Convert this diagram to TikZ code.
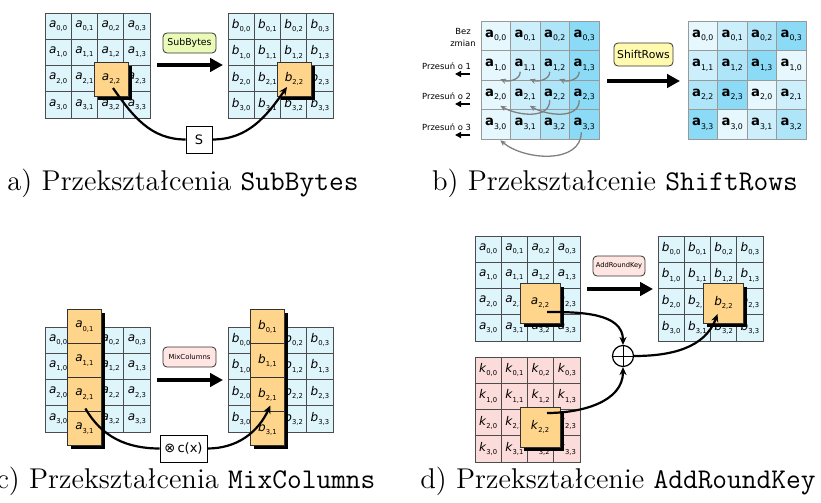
\documentclass[tikz,border=0pt]{standalone}
\usepackage{fontspec}
\usepackage{tikz}
\usetikzlibrary{arrows.meta,shadows}

\newfontfamily\vera{DejaVu Sans}

\definecolor{cellblue}{HTML}{DFF5FC}
\definecolor{cellpink}{HTML}{FCDCDA}
\definecolor{hlorange}{HTML}{FED58A}
\definecolor{sbgreen}{HTML}{EAFBB8}
\definecolor{shyellow}{HTML}{FFFAAE}
\definecolor{oppink}{HTML}{FFE6E2}
\definecolor{col0}{HTML}{E6F7FD}
\definecolor{col1}{HTML}{CDEFFB}
\definecolor{col2}{HTML}{AEE5F8}
\definecolor{col3}{HTML}{8BDBF7}

\newcommand{\elem}[2]{\textit{#1}\raisebox{-0.5ex}{\fontsize{3.4}{4}\selectfont #2}}
\newcommand{\elemb}[2]{\textbf{#1}\raisebox{-0.5ex}{\fontsize{3.9}{5}\selectfont #2}}

\begin{document}
\begin{tikzpicture}[x=0.5pt,y=-0.5pt]
	\useasboundingbox (0,0) rectangle (821,503);
	\begin{scope}
		[
			cell/.style={draw=black!70, inner sep=0,
				minimum width=13.1pt, minimum height=13.1pt,
				font=\vera\fontsize{6}{7}\selectfont},
			shcell/.style={draw=black!40, inner sep=0, minimum size=14.75pt,
				font=\vera\fontsize{6.6}{8}\selectfont},
			hl/.style={draw=black!80, fill=hlorange, inner sep=0, minimum size=#1,
				font=\vera\fontsize{6}{7}\selectfont,
				general shadow={fill=black, shadow xshift=1.8pt, shadow yshift=-1.8pt}},
			opbox/.style={draw=black!80, rounded corners=2pt, inner sep=0,
				minimum width=26.5pt, minimum height=10pt},
			fnbox/.style={draw, fill=white, inner sep=0, minimum height=13.5pt,
				font=\vera\fontsize{6.5}{7}\selectfont},
			rowlbl/.style={anchor=east, align=center, font=\vera\fontsize{4.2}{6}\selectfont},
			caption/.style={anchor=base, font=\fontsize{14.3}{17}\selectfont},
		]
		% grids a), d)
		\foreach \g/\x/\y/\l/\f in {sbA/45/13/a/cellblue, sbB/228/13/b/cellblue,
				akA/475/236/a/cellblue, akK/475/357/k/cellpink, akB/658/236/b/cellblue}
			\foreach \r in {0,...,3}
				\foreach \c in {0,...,3}
					\node(\g\r\c)[cell, fill=\f] at ({\x+26.25*(\c+0.5)},{\y+26.25*(\r+0.5)}) {\elem{\l}{\r,\c}};
		% grids c)
		\foreach \g/\x/\l in {mcA/45/a, mcB/228/b}
			\foreach \r in {0,...,3}
				\foreach \c in {0,2,3}
					\node(\g\r\c)[cell, fill=cellblue] at ({\x+26.25*(\c+0.5)},{327+26.25*(\r+0.5)}) {\elem{\l}{\r,\c}};
		% grids b)
		\foreach \r in {0,...,3}
			\foreach \c in {0,...,3}
				\node(shL\r\c)[shcell, fill=col\c] at ({481+29.5*(\c+0.5)},{21+29.5*(\r+0.5)}) {\elemb{a}{\r,\c}};
		\foreach \r in {0,...,3}
			\foreach \c in {0,...,3}{
				\pgfmathtruncatemacro{\k}{mod(\c+\r,4)}
				\node(shR\r\c)[shcell, fill=col\k] at ({688+29.5*(\c+0.5)},{21+29.5*(\r+0.5)}) {\elemb{a}{\r,\k}};
			}

		% highlighted bytes
		\node(sbHa)[hl=17pt] at (111,79) {\elem{a}{2,2}};
		\node(sbHb)[hl=17pt] at (294,79) {\elem{b}{2,2}};
		\node(akHa)[hl=20pt] at (540,303) {\elem{a}{2,2}};
		\node(akHk)[hl=20pt] at (540,427) {\elem{k}{2,2}};
		\node(akHb)[hl=20pt] at (723.5,303) {\elem{b}{2,2}};
		\foreach \r in {0,...,3}{
			\node(mcHa\r)[hl=17pt] at (84.4,{377.5+34*(\r-1.5)}) {\elem{a}{\r,1}};
			\node(mcHb\r)[hl=17pt] at (267.4,{377.5+34*(\r-1.5)}) {\elem{b}{\r,1}};
		}

		% operation labels
		\node(sbOp)[opbox, fill=sbgreen, font=\vera\fontsize{4.7}{5}\selectfont] at (189.5,43) {SubBytes};
		\node(shOp)[opbox, fill=shyellow, minimum width=29.5pt, minimum height=11.5pt,
			font=\vera\fontsize{5.4}{6}\selectfont] at (643.5,54.5) {ShiftRows};
		\node(mcOp)[opbox, fill=oppink, font=\vera\fontsize{3.45}{4}\selectfont] at (189.5,357) {MixColumns};
		\node(akOp)[opbox, fill=oppink, minimum width=26pt, font=\vera\fontsize{3.35}{4}\selectfont] at (619,266) {AddRoundKey};

		\node(sbS)[fnbox, minimum width=13pt] at (199,139.5) {S};
		\node(mcC)[fnbox, minimum width=23.5pt] at (183.5,448.5) {⊗\,c(x)};
		\node(akX)[circle, draw, line width=0.6pt, inner sep=0, minimum size=10.5pt] at (623,356) {};

		% row labels b)
		\node(shT0)[rowlbl, anchor=center] at (463,37) {Bez\\zmian};
		\node(shT1)[rowlbl] at (478,66) {Przesuń o 1};
		\node(shT2)[rowlbl] at (478,96) {Przesuń o 2};
		\node(shT3)[rowlbl] at (478,127) {Przesuń o 3};

		% captions
		\node(capA)[caption] at (183,190) {a) Przekształcenia \texttt{SubBytes}};
		\node(capB)[caption] at (615,190) {b) Przekształcenie \texttt{ShiftRows}};
		\node(capC)[caption] at (186,488) {c) Przekształcenia \texttt{MixColumns}};
		\node(capD)[caption] at (618,488) {d) Przekształcenie \texttt{AddRoundKey}};

		\coordinate(sbFrom) at (157,65);
		\coordinate(sbTo) at (223,65);
		\coordinate(shFrom) at (607,81);
		\coordinate(shTo) at (680,81);
		\coordinate(mcFrom) at (157,380);
		\coordinate(mcTo) at (223,380);
		\coordinate(akFrom) at (587,289);
		\coordinate(akTo) at (653,289);
	\end{scope}

	\begin{scope}
		[
			bigarrow/.style={line width=1.65pt, -{Triangle[length=6.5pt,width=6.7pt]}},
			curve/.style={line width=1.1pt},
			curvearr/.style={line width=1.1pt, -{Stealth[length=4pt,width=3.6pt]}},
			shiftarc/.style={draw=black!50, line width=0.65pt, -{Stealth[length=3pt,width=2.6pt]}},
			rowarr/.style={line width=0.8pt, -{Triangle[length=3pt,width=3pt]}},
		]
		\path
		(sbFrom) edge[bigarrow] (sbTo)
		(shFrom) edge[bigarrow] (shTo)
		(mcFrom) edge[bigarrow] (mcTo)
		(akFrom) edge[bigarrow] (akTo);

		\path
		([shift={(2,9)}]sbHa.center) edge[curve, out=-55, in=180] (sbS.west)
		(sbS.east) edge[curvearr, out=0, in=-125] ([shift={(-7,8)}]sbHb.center)

		([shift={(1,14)}]mcHa2.center) edge[curve, out=-60, in=180] (mcC.west)
		(mcC.east) edge[curvearr, out=0, in=-115] ([shift={(3,11)}]mcHb2.center)

		([shift={(7,9)}]akHa.center) edge[curvearr, out=0, in=90] (akX.north)
		([shift={(7,-14)}]akHk.center) edge[curvearr, out=0, in=-90] (akX.south)
		(akX.east) edge[curvearr, out=0, in=-110] ([shift={(-6,11)}]akHb.center)
		(akX.north) edge (akX.south)
		(akX.west) edge (akX.east);

		% shifted bytes
		\path
		([shift={(-5,6.5)}]shL11.center) edge[shiftarc, out=-90, in=-20] ([shift={(4.5,14)}]shL10.center)
		([shift={(-5,6.5)}]shL12.center) edge[shiftarc, out=-90, in=-20] ([shift={(4.5,14)}]shL11.center)
		([shift={(-5,6.5)}]shL13.center) edge[shiftarc, out=-90, in=-20] ([shift={(4.5,14)}]shL12.center)
		([shift={(-5,5.5)}]shL22.center) edge[shiftarc, out=-90, in=-30] ([shift={(4.5,11)}]shL20.center)
		([shift={(-5,5.5)}]shL23.center) edge[shiftarc, out=-90, in=-30] ([shift={(4.5,11)}]shL21.center)
		([shift={(-3,8)}]shL33.center) edge[shiftarc, out=-90, in=-40] ([shift={(4.5,16)}]shL30.center);

		\draw[rowarr] ([shift={(-8,8)}]shT1.east) -- ++(-15,0);
		\draw[rowarr] ([shift={(-8,8)}]shT2.east) -- ++(-15,0);
		\draw[rowarr] ([shift={(-8,8)}]shT3.east) -- ++(-15,0);
	\end{scope}
\end{tikzpicture}
\end{document}
